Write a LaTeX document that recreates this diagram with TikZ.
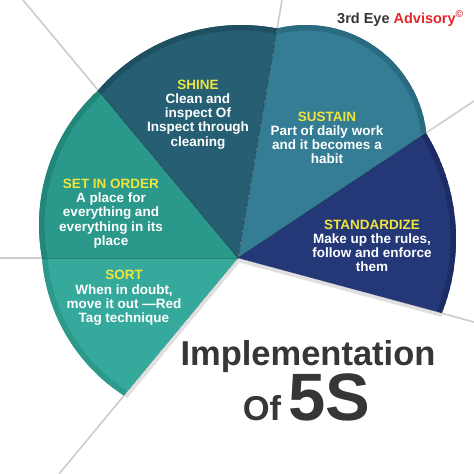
\documentclass[tikz,border=0pt]{standalone}
\usepackage{fontspec}
\setmainfont{Liberation Sans}
\usepackage{xcolor}
\definecolor{sortfill}{HTML}{35AA9C}
\definecolor{sortrim}{HTML}{2C998B}
\definecolor{setfill}{HTML}{2A988A}
\definecolor{setrim}{HTML}{22877A}
\definecolor{shinefill}{HTML}{265F73}
\definecolor{shinerim}{HTML}{1F5062}
\definecolor{sustainfill}{HTML}{347D95}
\definecolor{sustainrim}{HTML}{2B6B82}
\definecolor{stdfill}{HTML}{243878}
\definecolor{stdrim}{HTML}{1C2D66}
\definecolor{headyellow}{HTML}{F0E53C}
\definecolor{titlegray}{HTML}{363636}
\definecolor{brandred}{HTML}{E2262B}

\tikzset{
    guide/.style={draw=black!20, line width=1.6pt},
    drop/.style={draw=black!12, line width=3pt},
    seam/.style={draw=black, opacity=.25, line width=1pt},
    pietext/.style={align=center, text=white, inner sep=0pt,
        font=\bfseries\fontsize{13.5}{14.2}\selectfont},
    title/.style={text=titlegray, inner sep=0pt, font=\bfseries},
}

% one slice: fill, rim, centre x, centre y, radius, from angle, to angle
\newcommand{\pieslice}[7]{%
    \begin{scope}
        \clip (c) -- plot[domain=#6:#7, samples=60] ({#3+#5*cos(\x)},{#4+#5*sin(\x)}) -- cycle;
        \fill[#1] (c) -- plot[domain=#6:#7, samples=60] ({#3+#5*cos(\x)},{#4+#5*sin(\x)}) -- cycle;
        \draw[#2, line width=11pt] plot[domain=#6:#7, samples=60] ({#3+#5*cos(\x)},{#4+#5*sin(\x)});
    \end{scope}}

\begin{document}
\begin{tikzpicture}[x=1pt, y=-1pt]
    \useasboundingbox (0,0) rectangle (474,474);
    \coordinate (c) at (238,258);

    \coordinate (e1) at (0,258);
    \coordinate (e2) at (23,0);
    \coordinate (e3) at (282,0);
    \coordinate (e4) at (474,101);
    \coordinate (e5) at (474,322);
    \coordinate (e6) at (59,474);
    \foreach \e in {e1,e2,e3,e4,e5,e6}
        \draw[guide] (c) -- (\e);

    \coordinate (b1) at (124,395.6);
    \coordinate (b2) at (42,258);
    \coordinate (b3) at (98,90);
    \coordinate (b4) at (277,28.5);
    \coordinate (b5) at (426,133);
    \coordinate (b6) at (442,313);

    \draw[drop] ([shift={(2,1.5)}]c) -- ([shift={(2,1.5)}]b1);
    \draw[drop] ([shift={(0,2.5)}]c) -- ([shift={(0,2.5)}]b6);

    \pieslice{sortfill}{sortrim}{222}{244}{180.5}{175.55}{122.9}
    \pieslice{setfill}{setrim}{222}{225}{183}{227.4}{169.6}
    \pieslice{shinefill}{shinerim}{241}{214}{189}{281}{220.9}
    \pieslice{sustainfill}{sustainrim}{306}{146}{121}{353.8}{256.1}
    \pieslice{stdfill}{stdrim}{254}{239}{202}{21.5}{-31.6}

    \foreach \b in {b2,b3,b4,b5}
        \draw[seam] (c) -- (\b);

    \node[pietext] (shine) at (198,114.5)
        {\color{headyellow}SHINE\\Clean and\\inspect Of\\Inspect through\\cleaning};
    \node[pietext] (sustain) at (327,138)
        {\color{headyellow}SUSTAIN\\Part of daily work\\and it becomes a\\habit};
    \node[pietext] (standardize) at (372,246)
        {\color{headyellow}STANDARDIZE\\Make up the rules,\\follow and enforce\\them};
    \node[pietext] (setinorder) at (111,213.5)
        {\color{headyellow}SET IN ORDER\\A place for\\everything and\\everything in its\\place};
    \node[pietext] (sort) at (124,298)
        {\color{headyellow}SORT\\When in doubt,\\move it out ---Red\\Tag technique};

    \node[title, font=\bfseries\fontsize{34.5}{40}\selectfont, anchor=base] (impl) at (308,365) {Implementation};
    \node[title, font=\bfseries\fontsize{34.5}{40}\selectfont, anchor=base] (of) at (262,420) {Of};
    \node[title, font=\bfseries\fontsize{67}{70}\selectfont, anchor=base] (five) at (329,420) {5S};

    \node[title, font=\bfseries\fontsize{14.5}{16}\selectfont, anchor=base west] (brand) at (337,23)
        {3rd Eye \textcolor{brandred}{Advisory}\textsuperscript{\textcolor{brandred}{\textcopyright}}};
\end{tikzpicture}
\end{document}
